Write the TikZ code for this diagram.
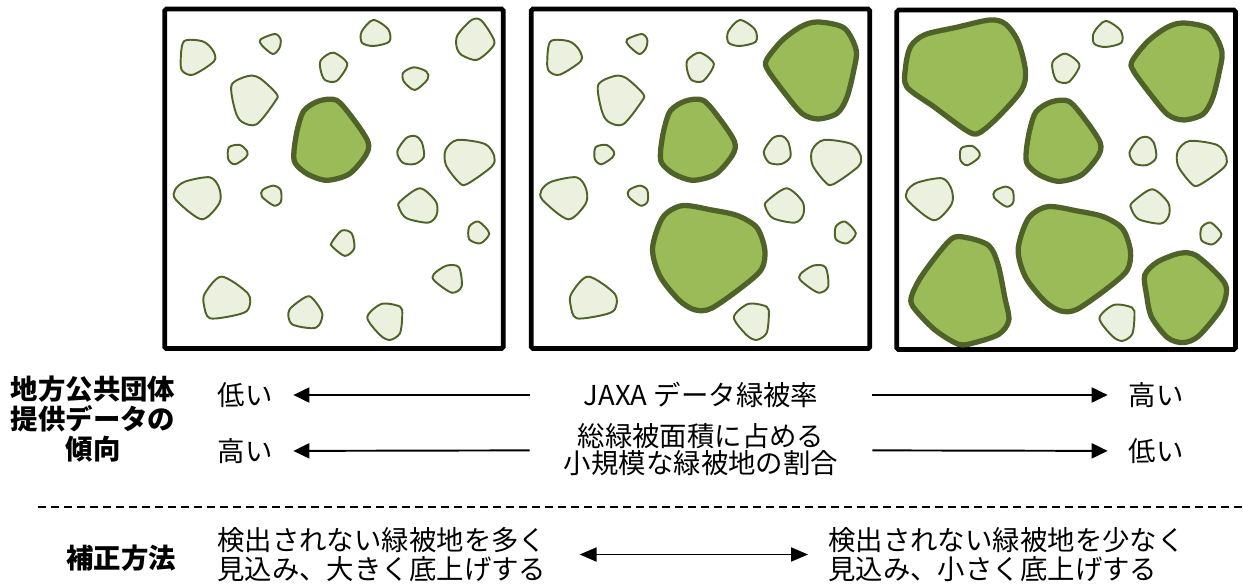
\documentclass[tikz,border=0pt]{standalone}
\usepackage{fontspec}
\setmainfont{Noto Sans CJK JP}
\usetikzlibrary{arrows.meta}

\definecolor{gruenhell}{HTML}{EBF1DE}
\definecolor{gruen}{HTML}{9BBB59}
\definecolor{gruendunkel}{HTML}{4F6228}

\newcommand{\fleck}[2][klein]{\draw[#1] plot[smooth cycle] coordinates {#2};}

%kleine Flecken
\newcommand{\flA}{\fleck{(72,124) (128,124) (158,150) (163,183) (100,224) (68,214) (62,185)}}
\newcommand{\flB}{\fleck{(302,118) (345,102) (362,118) (358,145) (338,162) (305,135)}}
\newcommand{\flC}{\fleck{(605,95) (640,60) (685,88) (688,125) (640,138) (606,128)}}
\newcommand{\flD}{\fleck{(893,105) (935,60) (965,62) (1003,122) (990,150) (950,180) (905,165) (890,140)}}
\newcommand{\flE}{\fleck{(483,180) (520,158) (562,192) (530,243) (495,240) (482,210)}}
\newcommand{\flF}{\fleck{(730,218) (762,202) (800,215) (803,238) (765,270) (732,245)}}
\newcommand{\flG}{\fleck{(215,255) (265,228) (300,235) (350,282) (345,305) (290,373) (245,365) (225,330)}}
\newcommand{\flH}{\fleck{(207,442) (240,435) (262,455) (258,472) (225,493) (205,478)}}
\newcommand{\flI}{\fleck{(712,455) (738,415) (765,408) (785,425) (792,470) (765,492) (728,488)}}
\newcommand{\flJ}{\fleck{(857,450) (892,420) (975,432) (1003,468) (995,500) (920,553) (895,545) (858,495)}}
\newcommand{\flK}{\fleck{(45,570) (75,545) (150,532) (178,565) (178,610) (125,658) (48,600)}}
\newcommand{\flL}{\fleck{(308,570) (340,557) (362,570) (363,605) (342,617) (306,590)}}
\newcommand{\flM}{\fleck{(720,605) (780,565) (828,605) (830,645) (805,668) (740,655) (718,625)}}
\newcommand{\flN}{\fleck{(928,680) (956,665) (988,700) (962,730) (928,718)}}
\newcommand{\flO}{\fleck{(515,728) (545,692) (575,700) (583,745) (555,768) (517,740)}}
\newcommand{\flP}{\fleck{(822,822) (860,797) (897,802) (905,860) (875,878) (823,842)}}
\newcommand{\flQ}{\fleck{(135,880) (185,830) (265,882) (265,928) (230,945) (150,955) (132,915)}}
\newcommand{\flR}{\fleck{(388,930) (440,890) (462,900) (487,940) (478,975) (455,985) (395,972)}}
\newcommand{\flS}{\fleck{(622,952) (665,912) (720,920) (727,945) (720,1000) (690,1020) (660,1005)}}

%grosse Flecken
\newcommand{\grM}{\fleck[gross]{(402,455) (412,390) (432,332) (477,303) (530,301) (580,357) (624,425) (618,465) (568,522) (500,541) (442,522) (406,490)}}
\newcommand{\grTR}{\fleck[gross]{(720,180) (767,121) (825,79) (875,66) (953,84) (989,150) (981,215) (961,293) (932,340) (875,357) (827,341) (775,280) (724,210)}}
\newcommand{\grBC}{\fleck[gross]{(378,745) (409,652) (467,617) (555,630) (633,647) (691,683) (715,750) (705,808) (647,861) (555,925) (506,930) (458,901) (400,828)}}

\begin{document}
\begin{tikzpicture}[
        x=0.02cm, y=-0.02cm,
        kasten/.style = {line width=2.7pt, rounded corners=1pt},
        klein/.style = {draw=gruendunkel, fill=gruenhell, line width=1.1pt},
        gross/.style = {draw=gruendunkel, fill=gruen, line width=3pt},
        txt/.style = {inner sep=0pt, align=center, font=\fontsize{15.6pt}{16.4pt}\selectfont},
        fett/.style = {txt, font=\fontsize{15.6pt}{17pt}\selectfont\bfseries},
        seite/.style = {txt, minimum width=1.92cm},
        mitte/.style = {txt, minimum width=6.84cm},
        pfeil/.style = {line width=1.1pt, -{Triangle[length=3.2mm, width=3mm]}},
        dpfeil/.style = {line width=1.1pt, {Triangle[length=3.4mm, width=2.8mm]}-{Triangle[length=3.4mm, width=2.8mm]}}
    ]
    \useasboundingbox (0,0) rectangle (1243,584);

    %Kasten 1
    \begin{scope}[xshift=3.2cm, x=0.06667mm, y=-0.06667mm]
        \draw[kasten] (14,27) rectangle (1030,1046);
        \flA \flB \flC \flD \flE \flF \flG \flH \flI \flJ
        \flK \flL \flM \flN \flO \flP \flQ \flR \flS
        \grM
    \end{scope}

    %Kasten 2
    \begin{scope}[xshift=10.533cm, x=0.06667mm, y=-0.06667mm]
        \draw[kasten] (14,27) rectangle (1030,1046);
        \flA \flB \flC \flE \flG \flH \flI \flJ
        \flK \flL \flM \flN \flP \flQ \flS
        \grM \grTR \grBC
    \end{scope}

    %Kasten 3
    \begin{scope}[xshift=17.847cm, yshift=-0.02cm, x=0.06667mm, y=-0.06667mm]
        \draw[kasten] (14,27) rectangle (1030,1046);
        \flC \flE \flH \flI \flJ \flK \flL \flM \flN \flS
        \grM \grTR \grBC
        \fleck[gross]{(40,200) (55,137) (98,101) (193,79) (293,57) (340,69) (378,122) (400,210) (388,268) (320,346) (261,396) (225,390) (126,318) (44,258)}
        \fleck[gross]{(59,883) (93,818) (175,716) (223,710) (290,734) (318,792) (338,890) (350,958) (320,1000) (248,1025) (199,1030) (127,986) (63,918)}
        \fleck[gross]{(758,822) (796,783) (863,757) (911,763) (978,822) (1003,862) (988,922) (920,1005) (873,1025) (826,1010) (778,948) (763,880)}
    \end{scope}

    %Beschriftung
    \node[fett] (quelle) at (93,419) {地方公共団体\\提供データの\\傾向};
    \node[seite] (low1) at (245,395) {低い};
    \node[mitte] (jaxa) at (701,395) {JAXA データ緑被率};
    \node[seite] (high1) at (1156,395) {高い};
    \node[seite] (high2) at (245,451) {高い};
    \node[mitte, font=\fontsize{15.6pt}{15.3pt}\selectfont] (anteil) at (701,450) {総緑被面積に占める\\小規模な緑被地の割合};
    \node[seite] (low2) at (1156,451) {低い};

    %Pfeile
    \draw[pfeil] (jaxa) -- (low1);
    \draw[pfeil] (jaxa) -- (high1);
    \draw[pfeil] (anteil) -- (high2);
    \draw[pfeil] (anteil) -- (low2);

    %Trennlinie
    \draw[line width=0.8pt, dash pattern=on 1.6mm off 1mm] (38,507) -- (1243,507);

    %Korrektur
    \node[fett] (methode) at (121,558) {補正方法};
    \node[txt, align=left, anchor=west] (mehr) at (217,554.5) {検出されない緑被地を多く\\見込み、大きく底上げする};
    \node[txt, align=left, anchor=west] (weniger) at (828,554.5) {検出されない緑被地を少なく\\見込み、小さく底上げする};
    \draw[dpfeil, shorten <=6.6mm, shorten >=4mm] (mehr) -- (weniger);

\end{tikzpicture}
\end{document}
